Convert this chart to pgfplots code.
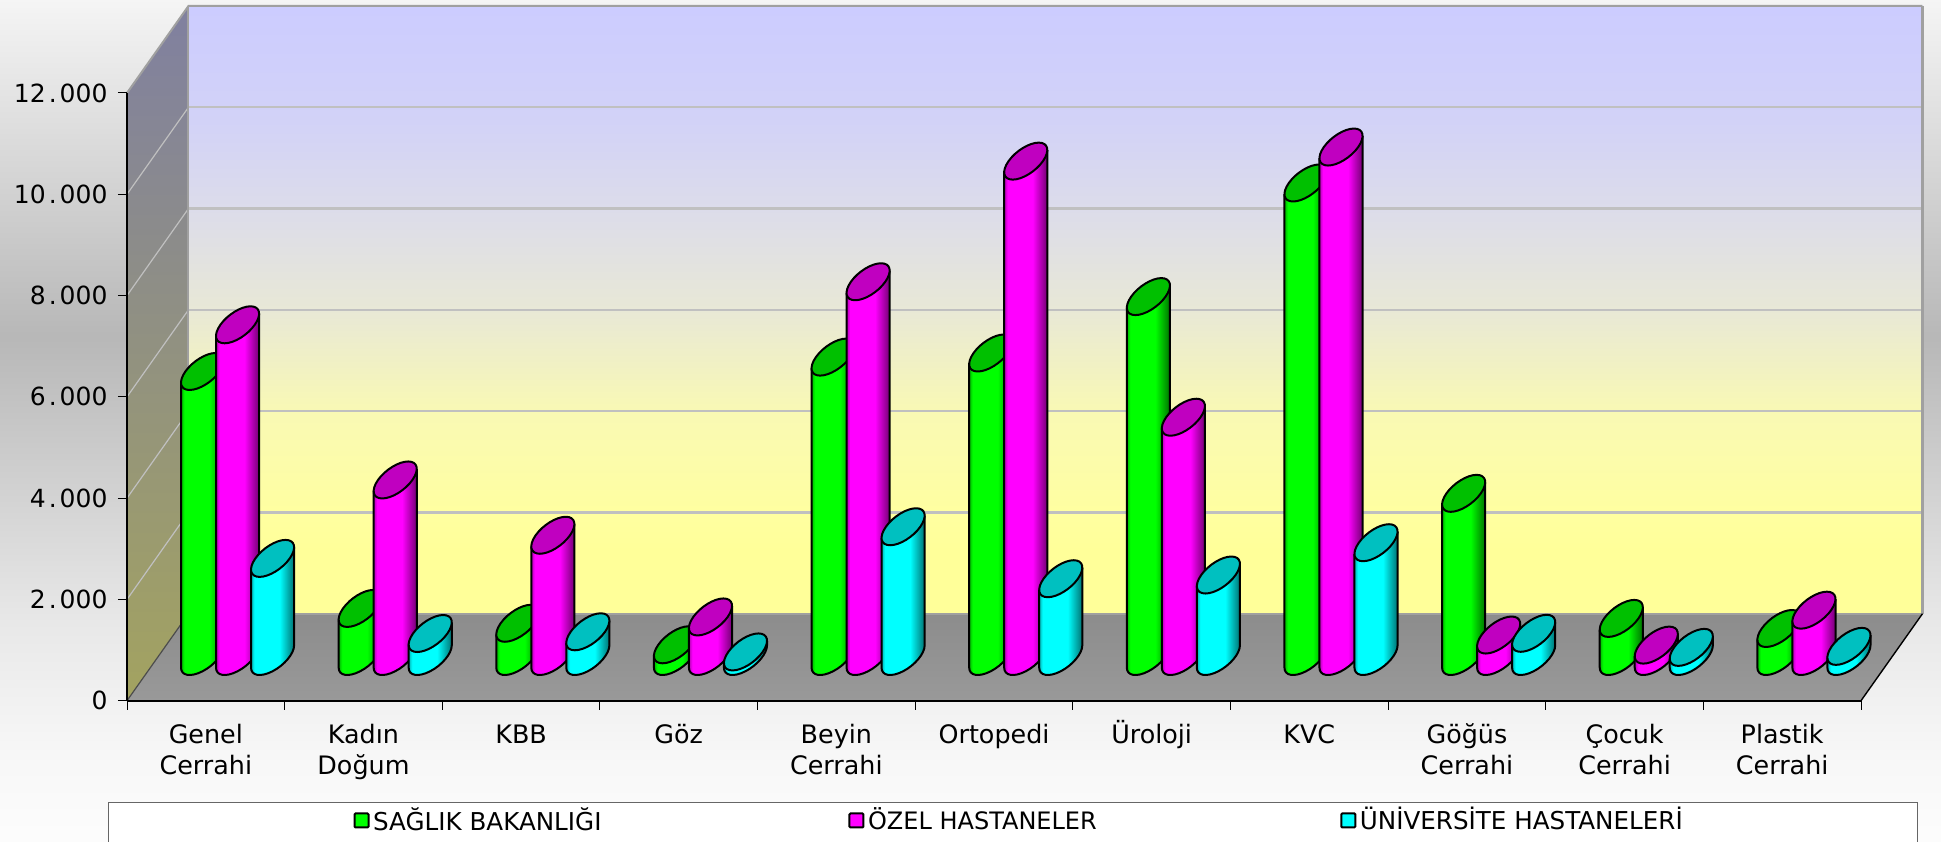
\documentclass[border=0pt]{standalone}
\usepackage{fontspec}
\setmainfont{DejaVu Sans}
\usepackage{pgfplots}
\usepackage{pgfplotstable}
\pgfplotsset{compat=1.18}
\usetikzlibrary{shadings}

% values
\pgfplotstableread{
pos   sb     ozel   univ
0.5   5628   6550   1937
1.5   949    3486   454
2.5   656    2394   488
3.5   231    781    90
4.5   5912   7400   2562
5.5   5993   9782   1536
6.5   7107   4725   1609
7.5   9350   10060  2247
8.5   3222   424    458
9.5   752    225    180
10.5  553    915    200
}\bars

\pgfdeclareplotmark{nil}{}
\pgfdeclareverticalshading{pagebg}{100bp}{rgb(0bp)=(0.99,0.99,0.99);rgb(25bp)=(0.99,0.99,0.99);rgb(30bp)=(0.97,0.97,0.97);rgb(38bp)=(0.91,0.91,0.91);rgb(55bp)=(0.72,0.72,0.72);rgb(75bp)=(0.96,0.96,0.96);rgb(100bp)=(0.96,0.96,0.96)}
\pgfdeclareverticalshading{backwall}{100bp}{rgb(0bp)=(1,1,0.6);rgb(30.2bp)=(1,1,0.6);rgb(33.2bp)=(1,1,0.627);rgb(41.6bp)=(0.976,0.976,0.706);rgb(50bp)=(0.91,0.91,0.84);rgb(58.3bp)=(0.863,0.863,0.918);rgb(65.5bp)=(0.824,0.824,0.969);rgb(75bp)=(0.8,0.8,1);rgb(100bp)=(0.8,0.8,1)}
\pgfdeclarehorizontalshading{cylG}{100bp}{rgb(0bp)=(0,0.7,0);rgb(25bp)=(0,0.7,0);rgb(29bp)=(0,1,0);rgb(58bp)=(0,1,0);rgb(75bp)=(0,0.45,0);rgb(100bp)=(0,0.45,0)}
\pgfdeclarehorizontalshading{cylM}{100bp}{rgb(0bp)=(0.7,0,0.7);rgb(25bp)=(0.7,0,0.7);rgb(29bp)=(1,0,1);rgb(58bp)=(1,0,1);rgb(75bp)=(0.45,0,0.45);rgb(100bp)=(0.45,0,0.45)}
\pgfdeclarehorizontalshading{cylC}{100bp}{rgb(0bp)=(0,0.7,0.7);rgb(25bp)=(0,0.7,0.7);rgb(29bp)=(0,1,1);rgb(58bp)=(0,1,1);rgb(75bp)=(0,0.45,0.45);rgb(100bp)=(0,0.45,0.45)}

\definecolor{topG}{RGB}{0,192,0}
\definecolor{topM}{RGB}{192,0,192}
\definecolor{topC}{RGB}{0,192,192}
\definecolor{sideG}{RGB}{0,255,0}
\definecolor{sideM}{RGB}{255,0,255}
\definecolor{sideC}{RGB}{0,255,255}
\definecolor{gridc}{RGB}{192,192,192}
\definecolor{edgec}{RGB}{160,160,160}
\definecolor{topleft}{RGB}{128,128,160}
\definecolor{botleft}{RGB}{163,163,96}

\newcommand\s{\rule{0pt}{24pt}}

% one cylinder, hung from the data point (top centre); #1 = sideways shift in px
% tikz transform options are ignored inside scatter markers, hence \pgftransform...
\newcommand\cyl[3]{%
  \pgfmathsetmacro\H{\barval*0.05064}%
  \begin{scope}[x=1pt,y=1pt,line width=2pt,line join=round]
    \pgftransformshift{\pgfpoint{31.75pt+#1pt}{44.2pt}}%
    \path[shading=#2,draw=black] (-21.56,-11.13) -- (-21.56,{-11.13-\H})
      .. controls (-21.58,{-19.29-\H}) and (-11.94,{-20.92-\H}) .. (-0.03,{-14.77-\H})
      .. controls (11.88,{-8.62-\H}) and (21.54,{2.97-\H}) .. (21.56,{11.13-\H})
      -- (21.56,11.13);
    \pgftransformcm{17.2}{0}{13}{18.5}{\pgfpointorigin}%
    \path[fill=#3,draw=black] (0,0) circle[radius=1pt];
  \end{scope}}

\pgfplotsset{
  cylbar/.style n args={4}{
    only marks, scatter, mark=nil,
    visualization depends on={y \as \barval},
    scatter/@pre marker code/.code={\cyl{#1}{#2}{#3}},
    scatter/@post marker code/.code={},
    legend image code/.code={\draw[fill=#4,line width=2pt,rounded corners=1pt] (0pt,-8pt) rectangle (14pt,6pt); \path (16pt,-30pt);},
  },
}

\begin{document}
\begin{tikzpicture}[x=1pt,y=1pt]
\path[use as bounding box,shading=pagebg] (0,0) rectangle (1941,841);
\begin{axis}[
    at={(127pt,140.3pt)}, anchor=south west,
    scale only axis,
    width=1734pt, height=607.7pt,
    xmin=0, xmax=11, ymin=0, ymax=12000,
    clip=false,
    axis on top,
    axis x line*=bottom, axis y line*=left,
    axis line style={black,line width=1.8pt,-},
    xtick={0,...,11},
    x tick label as interval,
    xticklabels={{\s Genel\\Cerrahi},{\s Kadın\\Doğum},\s KBB,\s Göz,{\s Beyin\\Cerrahi},\s Ortopedi,\s Üroloji,\s KVC,{\s Göğüs\\Cerrahi},{\s Çocuk\\Cerrahi},{\s Plastik\\Cerrahi}},
    x tick label style={align=center,font=\fontsize{25.4}{31}\selectfont,yshift=-6.5pt},
    ytick={0,2000,...,12000},
    y tick label style={font=\fontsize{25}{31}\selectfont,xshift=-7pt},
    scaled y ticks=false,
    /pgf/number format/.cd, 1000 sep={\kern3pt.\kern3pt}, assume math mode=true,
    /pgfplots/.cd,
    tick align=outside,
    major tick length=9pt,
    tick style={black,line width=1pt},
    legend columns=3,
    legend cell align=left,
    legend style={
      at={(-0.011,-0.1662)}, anchor=north west,
      draw=black!60, line width=1.2pt, fill=white,
      font=\fontsize{24.6}{30}\selectfont,
      inner xsep=245pt, inner ysep=3pt,
      /tikz/column 2/.style={column sep=245pt},
      /tikz/column 4/.style={column sep=241.5pt},
    },
]
% walls and floor
\path[shading=backwall] (axis cs:0.39,1718) rectangle (axis cs:11.39,13718);
\path[top color=topleft,bottom color=botleft] (axis cs:0,0) -- (axis cs:0.39,1718) -- (axis cs:0.39,13718) -- (axis cs:0,12000) -- cycle;
\path[top color=black!45,bottom color=black!40] (axis cs:0,0) -- (axis cs:11,0) -- (axis cs:11.39,1718) -- (axis cs:0.39,1718) -- cycle;
\pgfplotsinvokeforeach{2000,4000,...,10000}{
  \draw[gridc,line width=2.2pt] (axis cs:0.39,{#1+1718}) -- (axis cs:11.39,{#1+1718});
  \draw[gridc,line width=1.2pt] (axis cs:0,#1) -- (axis cs:0.39,{#1+1718});
}
\draw[edgec,line width=2pt] (axis cs:0,12000) -- (axis cs:0.39,13718) -- (axis cs:11.39,13718);
\draw[edgec,line width=3pt] (axis cs:11.39,13718) -- (axis cs:11.39,1718);
\draw[edgec,line width=2pt] (axis cs:0.39,13718) -- (axis cs:0.39,1718) -- (axis cs:11.39,1718);
\draw[black!70,line width=1.2pt] (axis cs:0,0) -- (axis cs:0.39,1718);
\draw[black,line width=1.4pt] (axis cs:11,0) -- (axis cs:11.39,1718);

\addplot[cylbar={-35}{cylG}{topG}{sideG}] table[x=pos,y=sb] {\bars};
\addplot[cylbar={0}{cylM}{topM}{sideM}] table[x=pos,y=ozel] {\bars};
\addplot[cylbar={35}{cylC}{topC}{sideC}] table[x=pos,y=univ] {\bars};
\legend{SAĞLIK BAKANLIĞI,{\fontsize{24}{30}\selectfont ÖZEL HASTANELER},ÜNİVERSİTE HASTANELERİ\kern-12pt\relax}
\end{axis}
\end{tikzpicture}
\end{document}
